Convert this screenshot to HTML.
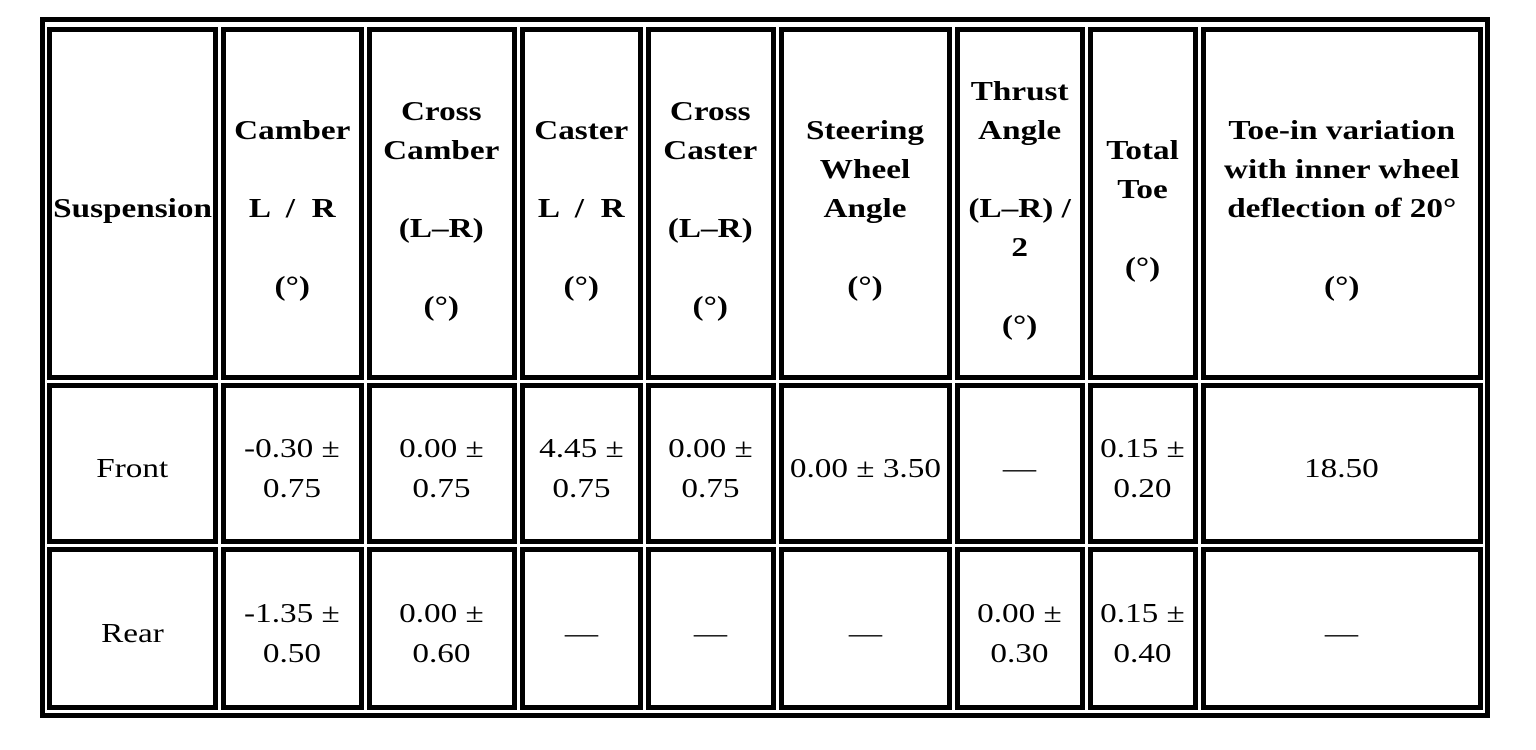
<!DOCTYPE html>
<html><head><style>
body{margin:0;width:1536px;height:750px;background:#fff;position:relative;overflow:hidden;font-family:"Liberation Serif",serif;}
.o{position:absolute;left:40px;top:17px;width:1440px;height:691px;border:5px solid #000;}
.c{position:absolute;box-sizing:border-box;border:5px solid #000;display:flex;align-items:center;justify-content:center;text-align:center;padding-top:10px;}
.c>div{transform:scaleX(1.23);white-space:nowrap;}
.h{font-weight:bold;font-size:27px;line-height:39px;}
.b{font-size:27px;line-height:40px;}
</style></head><body>
<div class="o"></div>
<div id="t"></div>
<script>
var xs=[47,219,365,518,644,777,953,1086,1199,1483];
var ys=[27,381.5,545,710];
var rows=[
["Suspension","Camber<br>&nbsp;<br>L &nbsp;/ &nbsp;R<br>&nbsp;<br>(°)","Cross<br>Camber<br>&nbsp;<br>(L–R)<br>&nbsp;<br>(°)","Caster<br>&nbsp;<br>L &nbsp;/ &nbsp;R<br>&nbsp;<br>(°)","Cross<br>Caster<br>&nbsp;<br>(L–R)<br>&nbsp;<br>(°)","Steering<br>Wheel<br>Angle<br>&nbsp;<br>(°)","Thrust<br>Angle<br>&nbsp;<br>(L–R) /<br>2<br>&nbsp;<br>(°)","Total<br>Toe<br>&nbsp;<br>(°)","Toe-in variation<br>with inner wheel<br>deflection of 20°<br>&nbsp;<br>(°)"],
["Front","-0.30 ±<br>0.75","0.00 ±<br>0.75","4.45 ±<br>0.75","0.00 ±<br>0.75","0.00 ± 3.50","—","0.15 ±<br>0.20","18.50"],
["Rear","-1.35 ±<br>0.50","0.00 ±<br>0.60","—","—","—","0.00 ±<br>0.30","0.15 ±<br>0.40","—"]];
var h="";
for(var r=0;r<3;r++)for(var i=0;i<9;i++){
var l=i==0?xs[0]:xs[i]+1.5, rr=i==8?xs[9]:xs[i+1]-1.5;
var t=r==0?ys[0]:ys[r]+1.5, bb=r==2?ys[3]:ys[r+1]-1.5;
h+='<div class="c '+(r==0?'h':'b')+'" style="left:'+l+'px;top:'+t+'px;width:'+(rr-l)+'px;height:'+(bb-t)+'px"><div>'+rows[r][i]+'</div></div>';}
document.getElementById('t').innerHTML=h;
</script>
</body></html>
